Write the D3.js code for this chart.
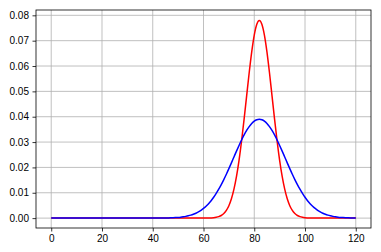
<!DOCTYPE html>
<html>
<head>
<meta charset="utf-8">
<script src="https://cdn.jsdelivr.net/npm/d3@7"></script>
<style>
  body { margin: 0; background: #fff; }
  svg { display: block; font-family: "DejaVu Sans", sans-serif; }
  .tick text { font-size: 10px; fill: #000; }
</style>
</head>
<body>
<div id="chart"></div>
<script>
// x positions (step 1)
const xValues = [
  0,1,2,3,4,5,6,7,8,9,10,11,12,13,14,15,16,17,18,19,20,21,22,23,24,25,26,27,28,29,
  30,31,32,33,34,35,36,37,38,39,40,41,42,43,44,45,46,47,48,49,50,51,52,53,54,55,56,57,58,59,
  60,61,62,63,64,65,66,67,68,69,70,71,72,73,74,75,76,77,78,79,80,81,82,83,84,85,86,87,88,89,
  90,91,92,93,94,95,96,97,98,99,100,101,102,103,104,105,106,107,108,109,110,111,112,113,114,115,116,117,118,119,120
]

// narrow (red) curve
const redValues = [
  0,0,0,0,0,0,0,0,0,0,0,0,0,0,0,0,0,0,0,0,0,0,0,0,0,0,0,0,0,0,
  0,0,0,0,0,0,0,0,0,0,0,0,0,0,0,0,0,0,0,0,0,0,0,0,0,0,0,0,0,0,
  0,0.00002,0.00004,0.00008,0.00015,0.00030,0.00057,0.00103,0.00180,0.00303,
  0.00490,0.00762,0.01141,0.01644,0.02279,0.03041,0.03905,0.04824,0.05735,0.06561,
  0.07223,0.07652,0.07800,0.07652,0.07223,0.06561,0.05735,0.04824,0.03905,0.03041,
  0.02279,0.01644,0.01141,0.00762,0.00490,0.00303,0.00180,0.00103,0.00057,0.00030,
  0.00015,0.00008,0.00004,0.00002,0,0,0,0,0,0,0,0,0,0,0,0,0,0,0,0,0
]

// wide (blue) curve
const blueValues = [
  0,0,0,0,0,0,0,0,0,0,0,0,0,0,0,0,0,0,0,0,0,0,0,0,0,0,0,0,0,0,
  0,0,0,0,0,0,0,0,0,0,0,0,0.00002,0.00003,0.00004,0.00005,0.00008,0.00011,0.00015,0.00021,
  0.00028,0.00038,0.00052,0.00069,0.00090,0.00117,0.00151,0.00193,0.00245,0.00307,
  0.00381,0.00468,0.00570,0.00688,0.00822,0.00972,0.01140,0.01323,0.01521,0.01731,
  0.01952,0.02180,0.02412,0.02643,0.02867,0.03082,0.03280,0.03458,0.03611,0.03735,
  0.03826,0.03881,0.03900,0.03881,0.03826,0.03735,0.03611,0.03458,0.03280,0.03082,
  0.02867,0.02643,0.02412,0.02180,0.01952,0.01731,0.01521,0.01323,0.01140,0.00972,
  0.00822,0.00688,0.00570,0.00468,0.00381,0.00307,0.00245,0.00193,0.00151,0.00117,
  0.00090,0.00069,0.00052,0.00038,0.00028,0.00021,0.00015,0.00011,0.00008,0.00005,0.00004
]

const xTicks = [0, 20, 40, 60, 80, 100, 120]
const yTicks = [0, 0.01, 0.02, 0.03, 0.04, 0.05, 0.06, 0.07, 0.08]

const width = 381, height = 252
const margin = { top: 10, right: 10, bottom: 24, left: 36 }

const x = d3.scaleLinear().domain([-6, 126]).range([margin.left, width - margin.right])
const y = d3.scaleLinear().domain([-0.0039, 0.0821]).range([height - margin.bottom, margin.top])

const svg = d3.select('#chart').append('svg')
  .attr('width', width)
  .attr('height', height)

// grid
svg.append('g')
  .selectAll('line')
  .data(xTicks)
  .join('line')
    .attr('x1', d => x(d)).attr('x2', d => x(d))
    .attr('y1', margin.top).attr('y2', height - margin.bottom)
    .attr('stroke', '#b0b0b0').attr('stroke-width', 0.8)

svg.append('g')
  .selectAll('line')
  .data(yTicks)
  .join('line')
    .attr('x1', margin.left).attr('x2', width - margin.right)
    .attr('y1', d => y(d)).attr('y2', d => y(d))
    .attr('stroke', '#b0b0b0').attr('stroke-width', 0.8)

const line = d3.line()
  .x((d, i) => x(xValues[i]))
  .y(d => y(d))
  .curve(d3.curveMonotoneX)

const plot = svg.append('g')

plot.append('path')
  .datum(redValues)
  .attr('fill', 'none')
  .attr('stroke', '#ff0000')
  .attr('stroke-width', 1.5)
  .attr('d', line)

plot.append('path')
  .datum(blueValues)
  .attr('fill', 'none')
  .attr('stroke', '#0000ff')
  .attr('stroke-width', 1.5)
  .attr('d', line)

// axes
const xAxis = d3.axisBottom(x).tickValues(xTicks).tickFormat(d3.format('d')).tickSizeOuter(0).tickSize(3.5).tickPadding(3.5)
const yAxis = d3.axisLeft(y).tickValues(yTicks).tickFormat(d3.format('.2f')).tickSizeOuter(0).tickSize(3.5).tickPadding(3.5)

const gx = svg.append('g')
  .attr('transform', 'translate(0,' + (height - margin.bottom) + ')')
  .call(xAxis)
gx.select('.domain').remove()

const gy = svg.append('g')
  .attr('transform', 'translate(' + margin.left + ',0)')
  .call(yAxis)
gy.select('.domain').remove()

svg.selectAll('.tick line').attr('stroke', '#000').attr('stroke-width', 0.8)

// frame
svg.append('rect')
  .attr('x', margin.left)
  .attr('y', margin.top)
  .attr('width', width - margin.left - margin.right)
  .attr('height', height - margin.top - margin.bottom)
  .attr('fill', 'none')
  .attr('stroke', '#000')
  .attr('stroke-width', 0.8)
</script>
</body>
</html>
